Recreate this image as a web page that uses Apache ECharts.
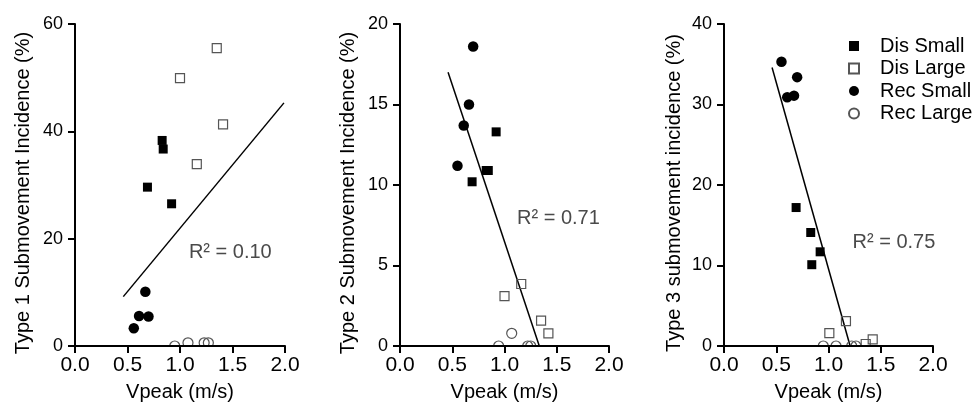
<!DOCTYPE html>
<html><head><meta charset="utf-8">
<script src="https://cdn.jsdelivr.net/npm/echarts@6/dist/echarts.min.js"></script>
<style>html,body{margin:0;padding:0;background:#fff}#c{width:980px;height:412px}</style>
</head><body><div id="c"></div>
<script>
// ---- data ----
const xTickLabels = ['0.0', '0.5', '1.0', '1.5', '2.0'];
const yMaxes = [60, 20, 40];
const yIntervals = [20, 5, 10];
const yNames = ['Type 1 Submovement Incidence (%)', 'Type 2 Submovement Incidence (%)', 'Type 3 submovement incidence (%)'];
const xName = 'Vpeak (m/s)';
const seriesNames = ['Dis Small', 'Dis Large', 'Rec Small', 'Rec Large'];

const disSmall1 = [[0.83, 38.3], [0.84, 36.7], [0.69, 29.6], [0.92, 26.5]];
const disLarge1 = [[1.35, 55.5], [1.00, 49.9], [1.41, 41.3], [1.16, 33.9]];
const recSmall1 = [[0.67, 10.1], [0.61, 5.6], [0.70, 5.5], [0.56, 3.3]];
const recLarge1 = [[0.95, 0], [1.076, 0.6], [1.23, 0.6], [1.27, 0.6]];
const fit1 = [[0.46, 9.2], [1.99, 45.3]];
const r2Label1 = 'R² = 0.10';
const r2Pos1 = [1.085, 17.5];

const disSmall2 = [[0.92, 13.3], [0.69, 10.2], [0.825, 10.9], [0.845, 10.9]];
const disLarge2 = [[1.16, 3.85], [1.00, 3.1], [1.35, 1.57], [1.42, 0.79]];
const recSmall2 = [[0.70, 18.6], [0.66, 15.0], [0.61, 13.7], [0.55, 11.2]];
const recLarge2 = [[0.944, 0], [1.069, 0.79], [1.222, 0], [1.251, 0]];
const fit2 = [[0.46, 17.0], [1.333, 0]];
const r2Label2 = 'R² = 0.71';
const r2Pos2 = [1.12, 7.95];

const disSmall3 = [[0.69, 17.2], [0.83, 14.1], [0.92, 11.7], [0.84, 10.1]];
const disLarge3 = [[1.167, 3.1], [1.008, 1.6], [1.423, 0.83], [1.356, 0.25]];
const recSmall3 = [[0.55, 35.3], [0.70, 33.4], [0.605, 30.9], [0.67, 31.1]];
const recLarge3 = [[0.95, 0], [1.072, 0], [1.222, 0], [1.263, 0]];
const fit3 = [[0.46, 34.6], [1.207, 0]];
const r2Label3 = 'R² = 0.75';
const r2Pos3 = [1.23, 12.8];

// ---- layout ----
const FONT = '"Liberation Sans", Arial, Helvetica, sans-serif';
const grids = [
  { left: 75, top: 24, width: 210, height: 322 },
  { left: 400, top: 24, width: 209, height: 322 },
  { left: 724, top: 24, width: 209, height: 322 }
];
const yNameGaps = [42, 42, 40];

const panels = [
  { ds: disSmall1, dl: disLarge1, rs: recSmall1, rl: recLarge1, fit: fit1, r2: r2Label1, r2p: r2Pos1 },
  { ds: disSmall2, dl: disLarge2, rs: recSmall2, rl: recLarge2, fit: fit2, r2: r2Label2, r2p: r2Pos2 },
  { ds: disSmall3, dl: disLarge3, rs: recSmall3, rl: recLarge3, fit: fit3, r2: r2Label3, r2p: r2Pos3 }
];

const styles = {
  'Dis Small': { symbol: 'rect', symbolSize: 9, itemStyle: { color: '#000', opacity: 1 } },
  'Dis Large': { symbol: 'rect', symbolSize: 9, itemStyle: { color: 'rgba(0,0,0,0)', borderColor: '#555', borderWidth: 1.2, opacity: 1 } },
  'Rec Small': { symbol: 'circle', symbolSize: 10.5, itemStyle: { color: '#000', opacity: 1 } },
  'Rec Large': { symbol: 'circle', symbolSize: 10, itemStyle: { color: 'rgba(0,0,0,0)', borderColor: '#555', borderWidth: 1.2, opacity: 1 } }
};

const xAxes = [], yAxes = [], series = [], graphics = [];
grids.forEach((g, i) => {
  xAxes.push({
    gridIndex: i, type: 'value', min: 0, max: 2, interval: 0.5, z: 10,
    name: xName, nameLocation: 'middle', nameGap: 36,
    nameTextStyle: { fontSize: 20, color: '#000', fontFamily: FONT },
    axisLine: { show: true, onZero: false, lineStyle: { color: '#000', width: 2 } },
    axisTick: { show: true, length: 7, lineStyle: { color: '#000', width: 2 } },
    axisLabel: { fontSize: 21, color: '#000', fontFamily: FONT, margin: 9,
      formatter: v => xTickLabels[Math.round(v / 0.5)] },
    splitLine: { show: false }
  });
  yAxes.push({
    gridIndex: i, type: 'value', min: 0, max: yMaxes[i], interval: yIntervals[i],
    name: yNames[i], nameLocation: 'middle', nameGap: yNameGaps[i],
    nameTextStyle: { fontSize: 20, color: '#000', fontFamily: FONT, padding: [0, 16, 0, 0] },
    axisLine: { show: true, onZero: false, lineStyle: { color: '#000', width: 2 } },
    axisTick: { show: true, length: 7, lineStyle: { color: '#000', width: 2 } },
    axisLabel: { fontSize: 18, color: '#000', fontFamily: FONT, margin: 12 },
    splitLine: { show: false }
  });
  const p = panels[i];
  series.push({
    name: 'fit' + (i + 1), type: 'line', xAxisIndex: i, yAxisIndex: i, data: p.fit,
    showSymbol: false, symbol: 'none', lineStyle: { color: '#000', width: 1.5 }, z: 1, silent: true
  });
  [['Dis Small', p.ds], ['Dis Large', p.dl], ['Rec Small', p.rs], ['Rec Large', p.rl]].forEach(([n, d]) => {
    series.push(Object.assign({ name: n, type: 'scatter', xAxisIndex: i, yAxisIndex: i, data: d, z: 2, clip: false }, styles[n]));
  });
  series.push({
    name: 'r2_' + (i + 1), type: 'scatter', xAxisIndex: i, yAxisIndex: i, data: [p.r2p],
    symbolSize: 0, silent: true, itemStyle: { opacity: 1 },
    label: { show: true, position: 'right', distance: 0, formatter: p.r2,
      fontSize: 20, color: '#4a4a4a', fontFamily: FONT }
  });
  // white mask below the x axis line so points at 0 appear cut by the axis
  graphics.push({
    type: 'rect', z: 5, silent: true,
    shape: { x: g.left + 1, y: g.top + g.height + 1, width: g.width + 4, height: 9 },
    style: { fill: '#fff' }
  });
});

const chart = echarts.init(document.getElementById('c'), null, { renderer: 'canvas' });
chart.setOption({
  animation: false,
  backgroundColor: '#fff',
  textStyle: { fontFamily: FONT },
  grid: grids,
  xAxis: xAxes,
  yAxis: yAxes,
  legend: {
    data: seriesNames, orient: 'vertical', left: 848, top: 36, padding: 0,
    itemWidth: 10, itemHeight: 10, itemGap: 2.5, selectedMode: false,
    textStyle: { fontSize: 20, color: '#000', fontFamily: FONT, padding: [0, 0, 0, 16] }
  },
  graphic: graphics,
  series: series
});
</script>
</body></html>
